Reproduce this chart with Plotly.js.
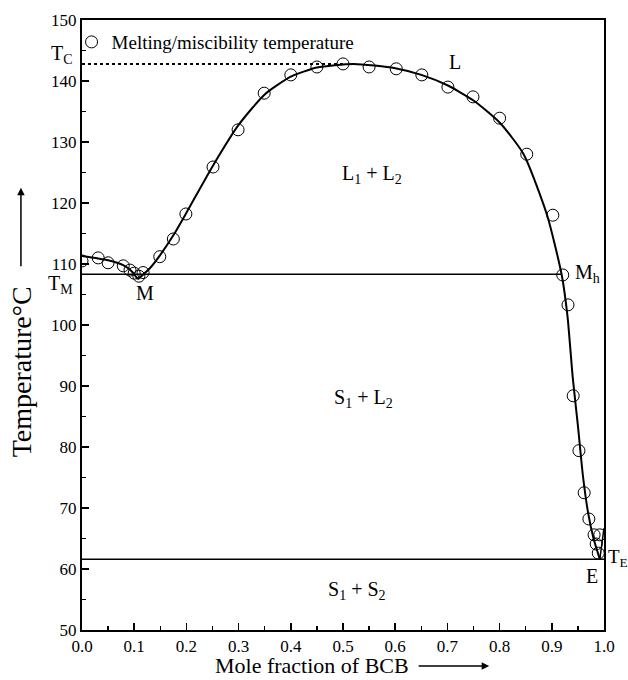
<!DOCTYPE html>
<html>
<head>
<meta charset="utf-8">
<script src="https://cdn.plot.ly/plotly-3.0.1.min.js"></script>
<style>html,body{margin:0;padding:0;background:#fff;}</style>
</head>
<body>
<div id="chart" style="width:628px;height:680px;"></div>
<script>
// Measured melting / miscibility temperatures
const xPts = [0, 0.031, 0.05, 0.079, 0.092, 0.10, 0.109, 0.117, 0.149, 0.175, 0.199, 0.251, 0.299, 0.349, 0.40, 0.45, 0.50, 0.55, 0.602, 0.651, 0.701, 0.749, 0.80, 0.852, 0.902, 0.921, 0.931, 0.941, 0.952, 0.962, 0.971, 0.981, 0.985, 0.989, 0.992];
const tPts = [110.5, 111, 110.2, 109.7, 109, 108.5, 108, 108.6, 111.2, 114.1, 118.2, 125.9, 132, 138, 141, 142.3, 142.8, 142.3, 142, 141, 139, 137.4, 133.9, 128, 118, 108.2, 103.3, 88.4, 79.4, 72.5, 68.2, 65.6, 64.1, 62.6, 65.6];

// Liquidus from pure component to monotectic M
const xLeft = [0, 0.05, 0.079, 0.095, 0.107];
const tLeft = [111.3, 110.6, 109.8, 108.8, 107.5];

// Main curve from M through critical point to eutectic E
const xMain = [0.107, 0.13, 0.15, 0.175, 0.2, 0.25, 0.3, 0.35, 0.4, 0.45, 0.52, 0.6, 0.65, 0.7, 0.75, 0.8, 0.846, 0.891, 0.919, 0.93, 0.94, 0.95, 0.96, 0.97, 0.98, 0.992];
const tMain = [107.5, 109.3, 111.5, 114.7, 118.4, 126, 132.8, 137.8, 140.7, 142.2, 142.8, 142.1, 141, 139.3, 136.8, 133.2, 128, 118, 108.2, 101.5, 91.5, 83.5, 75, 69, 65, 61.6];

// Short branch from E to the pure BCB side
const xRight = [0.992, 1.0];
const tRight = [61.6, 66.7];

// Invariant lines
const tMonotectic = 108.3;
const xMh = 0.919;
const tEutectic = 61.6;
const tCritical = 142.8;
const xCritical = 0.5;

const font = "Liberation Serif";

const traces = [
  {x: xLeft, y: tLeft, mode: 'lines', line: {color: '#000', width: 2, shape: 'spline', smoothing: 0.6}, showlegend: false, hoverinfo: 'skip'},
  {x: xMain, y: tMain, mode: 'lines', line: {color: '#000', width: 2, shape: 'spline', smoothing: 0.6}, showlegend: false, hoverinfo: 'skip'},
  {x: xRight, y: tRight, mode: 'lines', line: {color: '#000', width: 1.5}, showlegend: false, hoverinfo: 'skip'},
  {x: [0, xMh], y: [tMonotectic, tMonotectic], mode: 'lines', line: {color: '#000', width: 1.5}, showlegend: false, hoverinfo: 'skip'},
  {x: [0, 1], y: [tEutectic, tEutectic], mode: 'lines', line: {color: '#000', width: 1.5}, showlegend: false, hoverinfo: 'skip'},
  {x: [0, xCritical], y: [tCritical, tCritical], mode: 'lines', line: {color: '#000', width: 2, dash: 'dot'}, showlegend: false, hoverinfo: 'skip'},
  {x: xPts, y: tPts, mode: 'markers', name: 'Melting/miscibility temperature',
   marker: {symbol: 'circle-open', size: 12, color: '#000', line: {width: 1, color: '#000'}}}
];

const ann = (x, y, text, opts) => Object.assign({x: x, y: y, xref: 'paper', yref: 'y', text: text, showarrow: false,
  xanchor: 'center', yanchor: 'middle',
  font: {family: font, size: 20, color: '#000'}}, opts || {});

const layout = {
  width: 628, height: 680,
  margin: {l: 82, r: 24, t: 20, b: 50},
  paper_bgcolor: '#fff', plot_bgcolor: '#fff',
  font: {family: font, color: '#000'},
  showlegend: true,
  legend: {x: -0.02, y: 0.995, xanchor: 'left', yanchor: 'top', bgcolor: 'rgba(0,0,0,0)',
    font: {family: font, size: 19, color: '#000'}},
  xaxis: {range: [0, 1], tickmode: 'linear', tick0: 0, dtick: 0.1, tickformat: '.1f',
    ticks: 'inside', ticklen: 7, tickwidth: 1.5, tickcolor: '#000',
    minor: {ticks: 'inside', dtick: 0.05, ticklen: 4, tickwidth: 1.5, tickcolor: '#000'},
    showline: true, linewidth: 2, linecolor: '#000', mirror: true, showgrid: false, zeroline: false,
    tickfont: {family: font, size: 17, color: '#000'}},
  yaxis: {range: [50, 150], tickmode: 'linear', tick0: 50, dtick: 10,
    ticks: 'inside', ticklen: 7, tickwidth: 1.5, tickcolor: '#000',
    minor: {ticks: 'inside', dtick: 5, ticklen: 4, tickwidth: 1.5, tickcolor: '#000'},
    showline: true, linewidth: 2, linecolor: '#000', mirror: true, showgrid: false, zeroline: false,
    tickfont: {family: font, size: 17, color: '#000'}},
  annotations: [
    ann(0.715, 143.1, 'L'),
    ann(0.556, 124.6, 'L<sub>1</sub> + L<sub>2</sub>'),
    ann(0.54, 88, 'S<sub>1</sub> + L<sub>2</sub>'),
    ann(0.527, 56.5, 'S<sub>1</sub> + S<sub>2</sub>'),
    ann(0.121, 105.2, 'M'),
    ann(0.94, 108.5, 'M<sub>h</sub>', {xanchor: 'left'}),
    ann(0.977, 58.8, 'E'),
    ann(1.003, 61.8, 'T<sub>E</sub>', {xanchor: 'left', font: {family: font, size: 19, color: '#000'}}),
    ann(-0.013, 144.3, 'T<sub>C</sub>', {xanchor: 'right'}),
    ann(-0.013, 106.6, 'T<sub>M</sub>', {xanchor: 'right'}),
    // Axis titles
    {xref: 'paper', yref: 'paper', x: -0.117, y: 0.424, xanchor: 'center', yanchor: 'middle',
     text: 'Temperature°C', textangle: -90, showarrow: false,
     font: {family: font, size: 28, color: '#000'}},
    {xref: 'paper', yref: 'paper', x: 0.44, y: -0.059, xanchor: 'center', yanchor: 'middle',
     text: 'Mole fraction of BCB', showarrow: false,
     font: {family: font, size: 22, color: '#000'}},
    // Arrows
    {xref: 'paper', yref: 'paper', x: -0.117, y: 0.725, ax: 0, ay: 80, text: '', showarrow: true,
     arrowhead: 2, arrowsize: 1, arrowwidth: 1.5, arrowcolor: '#000'},
    {xref: 'paper', yref: 'paper', x: 0.78, y: -0.059, ax: -72, ay: 0, text: '', showarrow: true,
     arrowhead: 2, arrowsize: 1, arrowwidth: 1.5, arrowcolor: '#000'}
  ]
};

Plotly.newPlot('chart', traces, layout, {displayModeBar: false, staticPlot: true});
</script>
</body>
</html>
